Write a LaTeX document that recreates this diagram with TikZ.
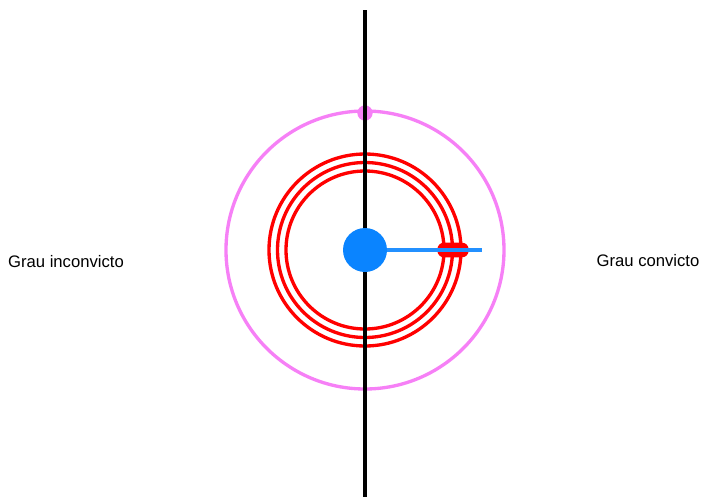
\documentclass[tikz,border=0pt]{standalone}
\usepackage{fontspec}
\setmainfont{Liberation Sans}
\usetikzlibrary{positioning}
\definecolor{orbitpink}{RGB}{246,128,246}
\definecolor{corered}{RGB}{255,0,0}
\definecolor{coreblue}{RGB}{10,132,255}
\begin{document}
\begin{tikzpicture}[x=0.75pt,y=-0.75pt,
    orbit/.style={draw=orbitpink,line width=2.5pt},
    ring/.style={draw=corered,line width=2.5pt},
    axis line/.style={draw=black,line width=2.4pt},
    core node/.style={circle,fill=coreblue,minimum size=33pt,inner sep=0pt},
    dot node/.style={circle,fill=orbitpink,minimum size=11.5pt,inner sep=0pt},
    pill node/.style={rectangle,rounded corners=5pt,fill=corered,minimum width=23.5pt,minimum height=11pt,inner sep=0pt},
    label node/.style={font=\fontsize{12.5pt}{15pt}\selectfont,inner sep=0pt} ]
    \useasboundingbox (0,0) rectangle (701,497);
    \coordinate (C) at (365,250);
    \draw [orbit] (C) circle (139);
    \draw [ring] (C) circle (96);
    \draw [ring] (C) circle (87.5);
    \draw [ring] (C) circle (79);
    \node at (365,113) [dot node] (top) {};
    \coordinate (up) at (365,10);
    \coordinate (down) at (365,497);
    \draw [axis line] (up) -- (down);
    \node at (C) [core node] (core) {};
    \node at (453,250) [pill node] (pill) {};
    \coordinate (tip) at (482,250);
    \draw [draw=coreblue!90!white,line width=2.4pt] (core) -- (tip);
    \node at (66,262) [label node] (left) {Grau inconvicto};
    \node at (648,261) [label node] (right) {Grau convicto};
\end{tikzpicture}
\end{document}
